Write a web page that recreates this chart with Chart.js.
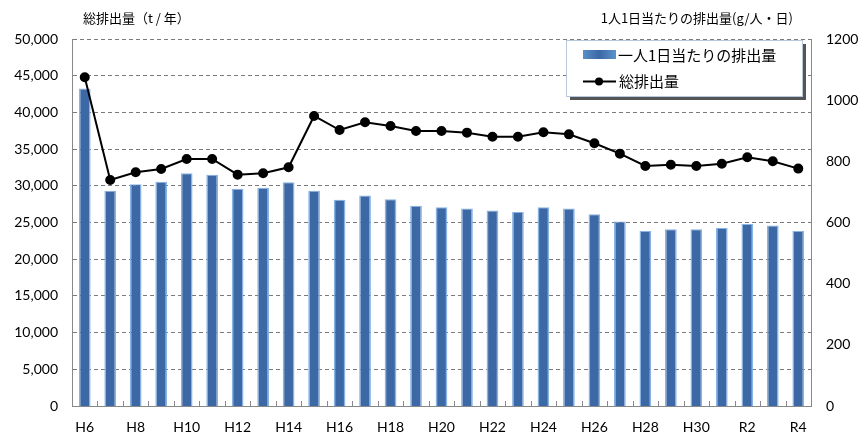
<!DOCTYPE html>
<html>
<head>
<meta charset="utf-8">
<script src="https://cdn.jsdelivr.net/npm/chart.js@4.4.0/dist/chart.umd.min.js"></script>
<style>
  html, body { margin: 0; padding: 0; background: #fff; }
  #wrap { width: 861px; height: 432px; position: relative; }
</style>
</head>
<body>
<div id="wrap"><canvas id="chart" width="861" height="432"></canvas></div>
<script>
// Years (H6 .. H30, R1 .. R4)
const years = ['H6','H7','H8','H9','H10','H11','H12','H13','H14','H15','H16','H17','H18','H19',
  'H20','H21','H22','H23','H24','H25','H26','H27','H28','H29','H30','R1','R2','R3','R4'];

// 一人1日当たりの排出量 (g/人・日) - bars, right axis
const perPerson = [1038, 704, 725, 733, 761, 756, 710, 714, 732, 704, 674, 688, 676, 655,
  650, 646, 639, 634, 650, 646, 627, 603, 572, 578, 578, 582, 595, 590, 572];

// 総排出量 (t/年) - line, left axis
const totalAmount = [44780, 30790, 31840, 32290, 33650, 33650, 31520, 31700, 32520, 39510, 37600, 38650, 38150, 37470,
  37470, 37240, 36690, 36690, 37290, 37010, 35790, 34380, 32700, 32880, 32700, 33010, 33880, 33340, 32340];

const leftTitle = '総排出量（t / 年）';
const rightTitle = '1人1日当たりの排出量(g/人・日)';
const barLabel = '一人1日当たりの排出量';
const lineLabel = '総排出量';

const FONT = "Lato, 'Noto Sans CJK JP', sans-serif";
const JFONT = "'Noto Sans CJK JP', sans-serif";
const BAR_COLOR = '#3c68a6';

// axis titles, inside tick marks, custom legend
const decorPlugin = {
  id: 'decor',
  afterDraw(chart) {
    const ctx = chart.ctx;
    const area = chart.chartArea;
    const xs = chart.scales.x;
    ctx.save();

    // small inside ticks on x axis between categories
    ctx.strokeStyle = '#888';
    ctx.lineWidth = 1;
    const step = xs.getPixelForValue(1) - xs.getPixelForValue(0);
    for (let i = 0; i <= years.length; i++) {
      const px = Math.round(xs.getPixelForValue(i) - step / 2) + 0.5;
      ctx.beginPath();
      ctx.moveTo(px, area.bottom);
      ctx.lineTo(px, area.bottom - 5);
      ctx.stroke();
    }

    // axis titles
    ctx.fillStyle = '#000';
    ctx.font = '13px ' + JFONT;
    ctx.textBaseline = 'middle';
    ctx.textAlign = 'left';
    ctx.fillText(leftTitle, 83, 18);
    ctx.textAlign = 'right';
    ctx.fillText(rightTitle, 793, 18);

    // legend box with shadow
    const bx = 566, by = 40, bw = 236, bh = 56;
    ctx.fillStyle = '#555';
    ctx.fillRect(bx + 4, by + 4, bw, bh);
    ctx.fillStyle = '#fff';
    ctx.fillRect(bx, by, bw, bh);
    ctx.strokeStyle = '#b8c8dc';
    ctx.strokeRect(bx + 0.5, by + 0.5, bw, bh);

    // bar entry
    const g = ctx.createLinearGradient(583, 0, 615, 0);
    g.addColorStop(0, '#5a90c8');
    g.addColorStop(0.5, BAR_COLOR);
    g.addColorStop(1, '#5a90c8');
    ctx.fillStyle = g;
    ctx.fillRect(583, 50, 33, 9);
    ctx.fillStyle = '#000';
    ctx.font = '15px ' + JFONT;
    ctx.textAlign = 'left';
    ctx.fillText(barLabel, 618, 55);

    // line entry
    ctx.strokeStyle = '#000';
    ctx.lineWidth = 2;
    ctx.beginPath();
    ctx.moveTo(583, 81.5);
    ctx.lineTo(616, 81.5);
    ctx.stroke();
    ctx.beginPath();
    ctx.arc(599, 81.5, 4, 0, Math.PI * 2);
    ctx.fillStyle = '#000';
    ctx.fill();
    ctx.fillText(lineLabel, 619, 81);

    ctx.restore();
  }
};

const ctx = document.getElementById('chart').getContext('2d');
new Chart(ctx, {
  type: 'bar',
  data: {
    labels: years,
    datasets: [
      {
        type: 'line',
        label: lineLabel,
        data: totalAmount,
        yAxisID: 'y',
        borderColor: '#000',
        backgroundColor: '#000',
        borderWidth: 2,
        pointRadius: 4,
        pointHoverRadius: 4,
        tension: 0,
        order: 0
      },
      {
        type: 'bar',
        label: barLabel,
        data: perPerson,
        yAxisID: 'y1',
        backgroundColor: BAR_COLOR,
        borderColor: 'rgba(130, 175, 225, 0.95)',
        borderWidth: { left: 1.5, right: 1.5, top: 1, bottom: 0 },
        barPercentage: 0.46,
        categoryPercentage: 1.0,
        order: 1
      }
    ]
  },
  options: {
    responsive: false,
    animation: false,
    layout: { padding: { top: 39, left: 0, right: 0, bottom: 0 } },
    plugins: {
      legend: { display: false },
      tooltip: { enabled: false }
    },
    scales: {
      x: {
        offset: true,
        grid: { display: false, drawTicks: false },
        border: { color: '#888', width: 1 },
        ticks: {
          autoSkip: false,
          maxRotation: 0,
          padding: 13,
          color: '#000',
          font: { family: FONT, size: 14 },
          callback: function (v, i) { return i % 2 === 0 ? years[i] : ''; }
        },
        afterFit(scale) { scale.height = 26; }
      },
      y: {
        position: 'left',
        min: 0,
        max: 50000,
        grid: {
          color: '#7a7a7a',
          drawTicks: false
        },
        border: { color: '#888', width: 1, dash: [4, 3] },
        ticks: {
          stepSize: 5000,
          padding: 14,
          color: '#000',
          font: { family: FONT, size: 14 },
          callback: v => v.toLocaleString('en-US')
        },
        afterFit(scale) { scale.width = 72; }
      },
      y1: {
        position: 'right',
        min: 0,
        max: 1200,
        grid: { display: false, drawTicks: false },
        border: { color: '#888', width: 1 },
        ticks: {
          stepSize: 200,
          padding: 15,
          color: '#000',
          font: { family: FONT, size: 14 },
          callback: v => String(v)
        },
        afterFit(scale) { scale.width = 50; }
      }
    }
  },
  plugins: [decorPlugin]
});
</script>
</body>
</html>
